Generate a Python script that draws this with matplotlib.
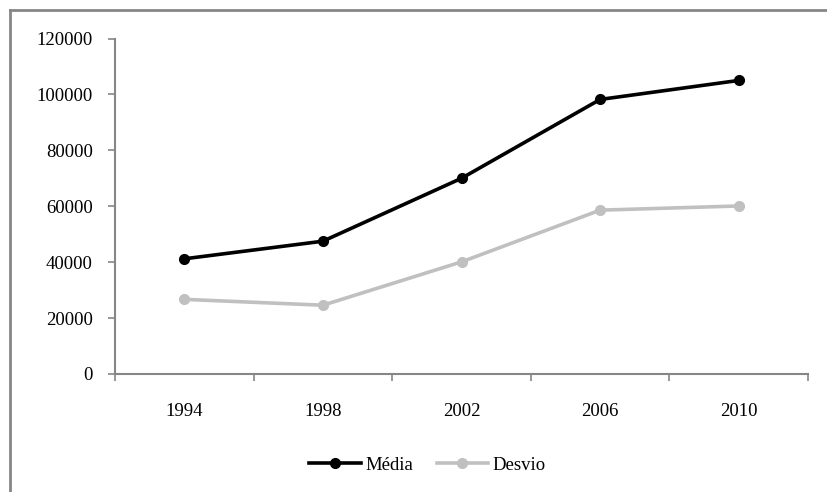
"""Média e desvio por ano de eleição, 1994-2010."""

import matplotlib.pyplot as plt
from matplotlib.lines import Line2D

anos = ["1994", "1998", "2002", "2006", "2010"]
media = [41200, 47500, 70000, 98200, 105000]
desvio = [26700, 24600, 40100, 58600, 60100]

plt.rcParams["font.family"] = ["Liberation Serif", "DejaVu Serif"]
plt.rcParams["font.size"] = 13.5

W, H = 827, 492
fig = plt.figure(figsize=(W / 100, H / 100), dpi=100)
ax = fig.add_axes([115 / W, 1 - 374 / H, (808 - 115) / W, (374 - 38.5) / H])

x = list(range(len(anos)))
ax.plot(x, media, color="black", lw=2.6, marker="o", ms=7, label="Média")
ax.plot(x, desvio, color="#c0c0c0", lw=2.6, marker="o", ms=7, label="Desvio")

ax.set_xlim(-0.5, len(anos) - 0.5)
ax.set_ylim(0, 120000)
ax.set_yticks(range(0, 120001, 20000))
ax.set_xticks(x)
ax.set_xticklabels(anos)
ax.set_xticks([i - 0.5 for i in range(len(anos) + 1)], minor=True)

axis_grey = "#868686"
for side in ("top", "right"):
    ax.spines[side].set_visible(False)
for side in ("left", "bottom"):
    ax.spines[side].set_color(axis_grey)
    ax.spines[side].set_linewidth(1.5)

ax.tick_params(axis="y", length=5, width=1.2, color=axis_grey, pad=11)
ax.tick_params(axis="x", which="major", length=0, pad=21)
ax.tick_params(axis="x", which="minor", length=5, width=1.2, color=axis_grey)

fig.legend(loc="center", bbox_to_anchor=(0.517, 1 - 465 / H), ncol=2,
           frameon=False, handlelength=2.75, columnspacing=1.25, handletextpad=0.25)

# frame around the chart (only left and top edges fall inside the image)
fig.add_artist(Line2D([9.5 / W, 9.5 / W], [0, 1 - 9.5 / H], color=axis_grey,
                      lw=2, transform=fig.transFigure))
fig.add_artist(Line2D([9.5 / W, 1], [1 - 9.5 / H, 1 - 9.5 / H], color=axis_grey,
                      lw=2, transform=fig.transFigure))

fig.savefig("out.png", dpi=100)
